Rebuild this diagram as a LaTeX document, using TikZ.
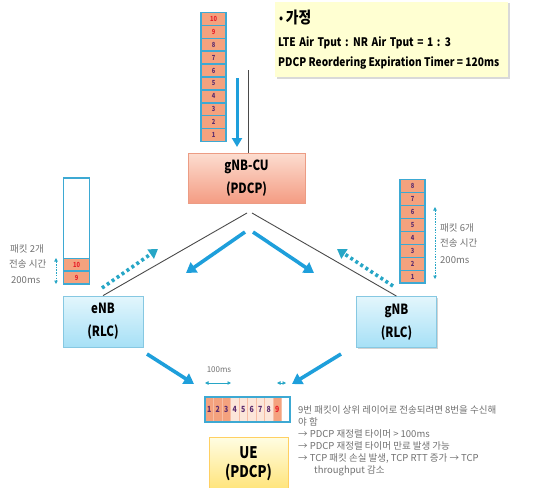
\documentclass[tikz,border=0pt]{standalone}
\usepackage{fontspec}
\setmainfont{Noto Sans CJK KR}
\newfontfamily\cond{Noto Sans CJK KR}[FakeStretch=0.82]
\newfontfamily\condb{Noto Sans CJK KR}[FakeStretch=0.86]
\usetikzlibrary{arrows.meta,shadows}
\definecolor{cellor}{HTML}{F4A27E}
\definecolor{cellbl}{HTML}{3DA9D3}
\definecolor{numpur}{HTML}{5B2C6F}
\definecolor{numred}{HTML}{E8202A}
\definecolor{arrbl}{HTML}{1E9FDB}
\definecolor{dotbl}{HTML}{27A6C6}
\definecolor{linegr}{HTML}{4A4A4A}
\definecolor{txtgr}{HTML}{707070}
\definecolor{notefill}{HTML}{FFFFD2}
\definecolor{cutop}{HTML}{FCDDD0}
\definecolor{cubot}{HTML}{F49C83}
\definecolor{cubd}{HTML}{EC9C84}
\definecolor{rlctop}{HTML}{E3F6FC}
\definecolor{rlcbot}{HTML}{A6E0F6}
\definecolor{rlcbd}{HTML}{86C8E2}
\definecolor{uetop}{HTML}{FFFDE3}
\definecolor{uebot}{HTML}{FFE47A}
\definecolor{cellpale}{HTML}{FCE6D9}
\begin{document}
\begin{tikzpicture}[x=1pt,y=-1pt,
  cell/.style={draw=cellbl,line width=1.2pt,fill=cellor,minimum width=25pt,minimum height=12.9pt,inner sep=0pt,font=\cond\bfseries\fontsize{7}{7}\selectfont},
  ucell/.style={draw=cellor!70,line width=0.6pt,minimum width=8.5pt,minimum height=25pt,inner sep=0pt,font=\cond\bfseries\fontsize{8.5}{8.5}\selectfont},
  stackframe/.style={draw=cellbl,line width=1.2pt,inner sep=0pt},
  bigarrow/.style={arrbl,line width=3.6pt,-{Triangle[length=10pt,width=12pt]}},
  dotarrow/.style={dotbl,line width=3.6pt,dash pattern=on 3pt off 3pt,-{Triangle[length=9pt,width=11pt]}},
  dimarrow/.style={dotbl,line width=0.8pt,dash pattern=on 1.5pt off 1.2pt,{Triangle[length=3.5pt,width=3.5pt]}-{Triangle[length=3.5pt,width=3.5pt]}},
  msarrow/.style={dotbl,line width=0.8pt,{Triangle[length=3.5pt,width=3.5pt]}-{Triangle[length=3.5pt,width=3.5pt]}},
  wire/.style={linegr,line width=0.9pt},
  sidetext/.style={text=txtgr,font=\fontsize{9.5}{9.5}\selectfont,inner sep=0pt,anchor=west},
  notetext/.style={anchor=west,inner sep=0pt,font=\condb\bfseries\fontsize{11.8}{11.8}\selectfont},
  rlcbox/.style={draw=rlcbd,line width=0.8pt,top color=rlctop,bottom color=rlcbot,minimum width=80pt,minimum height=51pt,align=center,font=\cond\bfseries\fontsize{14}{23}\selectfont,drop shadow={shadow xshift=1.2pt,shadow yshift=-1.2pt,opacity=0.35}}
]
\useasboundingbox (0,0) rectangle (537,487);

% note box
\node[fill=notefill,minimum width=233pt,minimum height=75pt,inner sep=0pt,drop shadow={shadow xshift=1.5pt,shadow yshift=-1.5pt,opacity=0.3}] (note) at (391.5,39.5) {};
\node[anchor=west,inner sep=0pt,font=\condb\bfseries\fontsize{16}{16}\selectfont] (n1) at (279,18) {\raisebox{1.5pt}{\fontsize{12}{12}\selectfont•}\,가정};
\node[notetext] (n2) at (278,43) {\spaceskip=3.6pt LTE Air Tput : NR Air Tput = 1 : 3};
\node[notetext] (n3) at (278,63) {PDCP Reordering Expiration Timer = 120ms};

% top stack
\foreach \i/\c in {1/numpur,2/numpur,3/numpur,4/numpur,5/numpur,6/numpur,7/numpur,8/numpur,9/numred,10/numred}
  \node[cell,text=\c] (top\i) at (213.5,{141.7-12.94*(\i-0.5)}) {\i};

% gNB-CU
\node[draw=cubd,line width=0.8pt,top color=cutop,bottom color=cubot,minimum width=117pt,minimum height=50pt,align=center,font=\cond\bfseries\fontsize{14}{23}\selectfont,drop shadow={shadow xshift=1.2pt,shadow yshift=-1.2pt,opacity=0.35}] (cu) at (246.5,178) {gNB-CU\\(PDCP)};

\coordinate (vt) at (248,70);
\draw[wire] (vt) -- (vt |- cu.north);
\coordinate (dA) at (237,78);
\coordinate (dB) at (237,147);
\draw[arrbl,line width=3pt,-{Triangle[length=9pt,width=10pt]}] (dA) -- (dB);

% eNB, gNB
\node[rlcbox] (enb) at (103,321.5) {eNB\\(RLC)};
\node[rlcbox] (gnb) at (396.5,322) {gNB\\(RLC)};

\coordinate (cuL) at (247,213);
\coordinate (cuR) at (252,213);
\draw[wire] (cuL) -- (enb.north);
\draw[wire] (cuR) -- (gnb.north);

\coordinate (bl1) at (245,232); \coordinate (bl2) at (186,273);
\coordinate (br1) at (253,232); \coordinate (br2) at (314,273);
\draw[bigarrow] (bl1) -- (bl2);
\draw[bigarrow] (br1) -- (br2);

% left stack
\node[stackframe,fill=white,minimum width=26pt,minimum height=106pt] (lstack) at (76.5,231) {};
\node[cell,minimum width=26pt,text=numred] (l9) at (76.5,277.5) {9};
\node[cell,minimum width=26pt,text=numred] (l10) at (76.5,264.6) {10};
\coordinate (la1) at (56,258); \coordinate (la2) at (56,284);
\draw[dimarrow] (la1) -- (la2);
\node[sidetext] (lt1) at (10,249) {패킷 2개};
\node[sidetext] (lt2) at (9,264) {전송 시간};
\node[sidetext] (lt3) at (11,280) {200ms};
\coordinate (ld1) at (102,288); \coordinate (ld2) at (158,249);
\draw[dotarrow] (ld1) -- (ld2);

% right stack
\foreach \i in {1,...,8}
  \node[cell,text=numpur] (r\i) at (412.5,{283-12.9*(\i-0.5)}) {\i};
\coordinate (ra1) at (435,207); \coordinate (ra2) at (435,279);
\draw[dimarrow] (ra1) -- (ra2);
\node[sidetext] (rt1) at (440,228) {패킷 6개};
\node[sidetext] (rt2) at (440,243) {전송 시간};
\node[sidetext] (rt3) at (440,260) {200ms};
\coordinate (rd1) at (393,286); \coordinate (rd2) at (337,249);
\draw[dotarrow] (rd1) -- (rd2);

% arrows to UE
\coordinate (ul1) at (147,354); \coordinate (ul2) at (194,384);
\coordinate (ur1) at (341,354); \coordinate (ur2) at (292,384);
\draw[bigarrow] (ul1) -- (ul2);
\draw[bigarrow] (ur1) -- (ur2);

% UE buffer
\foreach \i/\f/\c in {1/cellor/numpur,2/cellor/numpur,3/cellor/numpur,4/cellpale/numpur,5/cellpale/numpur,6/cellpale/numpur,7/cellpale/numpur,8/cellpale/numpur,9/cellor/numred,10/white/numred}
  \node[ucell,fill=\f,text=\c] (u\i) at ({205+8.5*(\i-0.5)},409.5) {\ifnum\i<10 \i\fi};
\node[stackframe,minimum width=85pt,minimum height=25pt] (ubuf) at (247.5,409.5) {};
\coordinate (m1) at (205,383); \coordinate (m2) at (231,383);
\draw[msarrow] (m1) -- (m2);
\node[text=txtgr,font=\fontsize{8}{8}\selectfont,inner sep=0pt] (ms) at (219,370) {100ms};
\coordinate (s1) at (277,383); \coordinate (s2) at (286,383);
\draw[msarrow] (s1) -- (s2);

% UE box
\node[draw=uebot!80!orange,line width=0.5pt,top color=uetop,bottom color=uebot,minimum width=79pt,minimum height=52pt,align=center,font=\cond\bfseries\fontsize{16}{19}\selectfont,anchor=north] (ue) at (248.5,437) {UE\\(PDCP)};

% description
\node[anchor=north west,align=left,text=txtgr,inner sep=0pt,font=\fontsize{9.5}{12}\selectfont] (desc) at (298,405) {9번 패킷이 상위 레이어로 전송되려면 8번을 수신해\\야 함\\→ PDCP 재정렬 타이머 > 100ms\\→ PDCP 재정렬 타이머 만료 발생 가능\\→ TCP 패킷 손실 발생, TCP RTT 증가 → TCP\\\hspace*{16pt}throughput 감소};
\end{tikzpicture}
\end{document}
